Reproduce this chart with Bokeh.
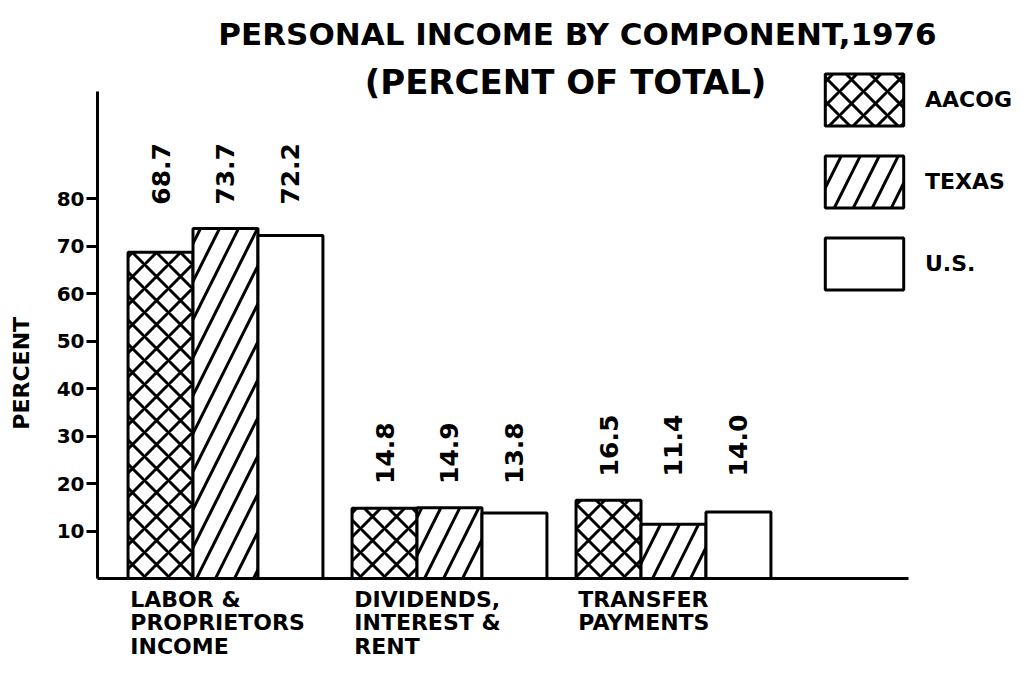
import numpy as np
from math import pi
from bokeh.plotting import figure
from bokeh.layouts import column
from bokeh.models import (ColumnDataSource, Range1d, LinearAxis, FixedTicker,
                          Label, Legend, LegendItem)
from bokeh.transform import dodge
from bokeh.core.properties import value
from bokeh.embed import file_html
from bokeh.resources import INLINE

# ---------------- data ----------------
categories = ["LABOR &\nPROPRIETORS\nINCOME",
              "DIVIDENDS,\nINTEREST &\nRENT",
              "TRANSFER\nPAYMENTS"]
series_names = ["AACOG", "TEXAS", "U.S."]
aacog = [68.7, 14.8, 16.5]
texas = [73.7, 14.9, 11.4]
us = [72.2, 13.8, 14.0]
y_ticks = [10, 20, 30, 40, 50, 60, 70, 80]
title_text = "PERSONAL INCOME BY COMPONENT,1976"
subtitle_text = "(PERCENT OF TOTAL)"
y_label = "PERCENT"

# ---------------- styling / layout ----------------
FONT = "DejaVu Sans"
W = 1014
H_MAIN, H_CAT = 584, 75
LEFT, BOTTOM = 97, 6
PX_PER_Y = 4.75
BAR_W = 0.29
X_START = 0.4286
X_END = X_START + (W - LEFT) / 224.0
AXIS_X_END = 4.049
Y_END = (H_MAIN - BOTTOM) / PX_PER_Y
Y_END_AXIS = 102.5
Y_LABEL_POS = 43.2

pos = np.arange(1, len(categories) + 1)
values_by_series = [aacog, texas, us]
offsets = [-BAR_W, 0.0, BAR_W]
hatches = [dict(hatch_pattern="diagonal_cross", hatch_scale=24, hatch_weight=3),
           dict(hatch_pattern="right_diagonal_line", hatch_scale=38, hatch_weight=3),
           dict(hatch_pattern=" ")]

src = ColumnDataSource(dict(x=pos, s0=aacog, s1=texas, s2=us))

p = figure(width=W, height=H_MAIN,
           x_range=Range1d(X_START, X_END), y_range=Range1d(0, Y_END),
           output_backend="svg", toolbar_location=None,
           x_axis_type=None, y_axis_type=None,
           min_border_left=LEFT, min_border_right=0,
           min_border_top=0, min_border_bottom=BOTTOM)
p.outline_line_color = None
p.background_fill_color = "white"
p.border_fill_color = "white"

yaxis = LinearAxis(ticker=FixedTicker(ticks=y_ticks), bounds=(0, Y_END_AXIS),
                   axis_line_width=3, axis_line_color="black",
                   major_tick_line_width=3, major_tick_out=11, major_tick_in=0,
                   minor_tick_line_color=None,
                   major_label_text_font=FONT, major_label_text_font_style="bold",
                   major_label_text_font_size="20px", major_label_text_color="black",
                   major_label_standoff=2)
p.add_layout(yaxis, "left")

# axis title rendered as the rotated label of an outer, line-less axis
ylab_axis = LinearAxis(ticker=FixedTicker(ticks=[Y_LABEL_POS]),
                       major_label_overrides={Y_LABEL_POS: y_label},
                       major_label_orientation="vertical",
                       axis_line_color=None, major_tick_line_color=None,
                       minor_tick_line_color=None, major_tick_out=0, major_tick_in=0,
                       major_label_text_font=FONT, major_label_text_font_style="bold",
                       major_label_text_font_size="22px", major_label_text_color="black",
                       major_label_standoff=19)
p.add_layout(ylab_axis, "left")

xaxis = LinearAxis(ticker=FixedTicker(ticks=[]), bounds=(X_START, AXIS_X_END),
                   axis_line_width=3, axis_line_color="black",
                   major_tick_line_color=None, minor_tick_line_color=None,
                   major_tick_out=0, major_tick_in=0, major_label_standoff=0,
                   major_label_text_font_size="0px")
p.add_layout(xaxis, "below")

renderers = []
for i, (name, off, h) in enumerate(zip(series_names, offsets, hatches)):
    r = p.vbar(x=dodge("x", off, range=p.x_range), top=f"s{i}", bottom=0,
               width=BAR_W, source=src, fill_color="white",
               line_color="black", line_width=3,
               hatch_color="black", **h)
    renderers.append(r)

# value labels above bars
group_max = np.max(np.array(values_by_series), axis=0)
for vals, off in zip(values_by_series, offsets):
    p.text(x=pos + off, y=group_max + 5.0, text=[f"{v:.1f}" for v in vals],
           angle=pi / 2, text_align="left", text_baseline="middle",
           text_font=value(FONT), text_font_style="bold",
           text_font_size="25px", text_color="black")

# titles
p.add_layout(Label(x=480, y=545, x_units="screen", y_units="screen",
                   text=title_text, text_align="center", text_baseline="middle",
                   text_font=FONT, text_font_style="bold", text_font_size="31px",
                   text_color="black"))
p.add_layout(Label(x=468, y=497, x_units="screen", y_units="screen",
                   text=subtitle_text, text_align="center", text_baseline="middle",
                   text_font=FONT, text_font_style="bold", text_font_size="34px",
                   text_color="black"))

legend = Legend(items=[LegendItem(label=n, renderers=[r])
                       for n, r in zip(series_names, renderers)],
                location=(718, 282), orientation="vertical",
                glyph_width=98, glyph_height=65, spacing=17,
                label_standoff=12, padding=0, margin=0,
                border_line_color=None, background_fill_alpha=0,
                label_text_font=FONT, label_text_font_style="bold",
                label_text_font_size="22px", label_text_color="black")
p.add_layout(legend)

# ---------------- category labels strip (shares the x scale) ----------------
p2 = figure(width=W, height=H_CAT, x_range=p.x_range, y_range=Range1d(0, H_CAT),
            output_backend="svg", toolbar_location=None,
            x_axis_type=None, y_axis_type=None,
            min_border_left=LEFT, min_border_right=0,
            min_border_top=0, min_border_bottom=0)
p2.outline_line_color = None
p2.background_fill_color = "white"
p2.border_fill_color = "white"
p2.text(x=pos - 1.5 * BAR_W + 0.01, y=[H_CAT - 2] * len(categories), text=categories,
        text_align="left", text_baseline="top",
        text_font=value(FONT), text_font_style="bold",
        text_font_size="22px", text_line_height=0.94, text_color="black")

layout = column(p, p2, spacing=0)
open("out.html", "w").write(file_html(layout, INLINE))
